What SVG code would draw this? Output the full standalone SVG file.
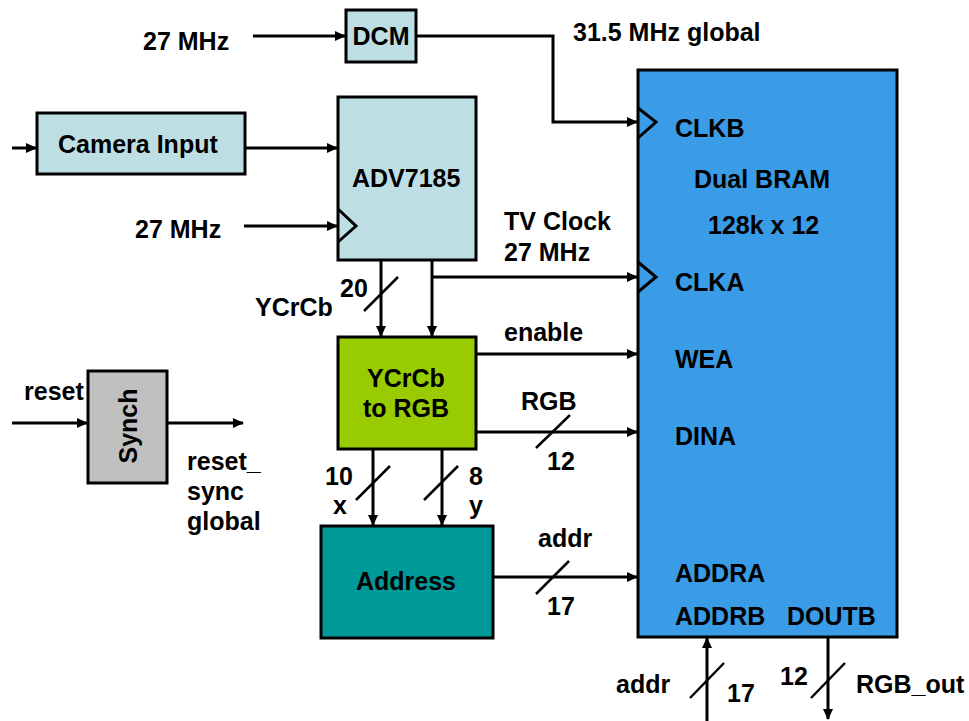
<svg xmlns="http://www.w3.org/2000/svg" width="969" height="721" viewBox="0 0 969 721">
<style>
text{font-family:"Liberation Sans",Arial,sans-serif;font-weight:bold;font-size:25px;fill:#000}
.c{text-anchor:middle}
.box{stroke:#000;stroke-width:3}
.lb{fill:#bddfe3}
.w{fill:none;stroke:#000;stroke-width:3}
.s{fill:none;stroke:#000;stroke-width:2.5}
.clk{fill:none;stroke:#000;stroke-width:3;stroke-linejoin:miter}
</style>
<defs>
<marker id="ah" markerUnits="userSpaceOnUse" markerWidth="11" markerHeight="10" refX="10" refY="5" orient="auto">
<path d="M0,0 L11,5 L0,10 z" fill="#000"/>
</marker>
</defs>
<rect width="969" height="721" fill="#fff"/>

<g id="dcm">
<rect class="box lb" x="346" y="10" width="70" height="52"/>
<text class="c" x="381" y="45">DCM</text>
</g>
<g id="camera">
<rect class="box lb" x="37" y="113" width="208" height="61"/>
<text x="58" y="153">Camera Input</text>
</g>
<g id="adv7185">
<rect class="box lb" x="338" y="97" width="138" height="163"/>
<text x="352" y="187">ADV7185</text>
<path class="clk" d="M338,209 L356,226 L338,242"/>
</g>
<g id="ycrcb2rgb">
<rect class="box" fill="#99cc00" x="338" y="337" width="138" height="112"/>
<text class="c" x="406" y="387">YCrCb</text>
<text class="c" x="406" y="417">to RGB</text>
</g>
<g id="synch">
<rect class="box" fill="#c0c0c0" x="88" y="371" width="79" height="112"/>
<text class="c" transform="translate(137,426) rotate(-90)">Synch</text>
</g>
<g id="address">
<rect class="box" fill="#009999" x="321" y="526" width="172" height="112"/>
<text class="c" x="406" y="590">Address</text>
</g>
<g id="bram">
<rect class="box" fill="#3a9be6" x="638" y="70" width="259" height="567"/>
<path class="clk" d="M638,108 L656,122 L638,138"/>
<path class="clk" d="M638,262 L656,277 L638,292"/>
<text x="675" y="137">CLKB</text>
<text x="694" y="188">Dual BRAM</text>
<text x="708" y="234">128k x 12</text>
<text x="675" y="291">CLKA</text>
<text x="675" y="368">WEA</text>
<text x="675" y="445">DINA</text>
<text x="675" y="582">ADDRA</text>
<text x="675" y="625">ADDRB</text>
<text x="787" y="625">DOUTB</text>
</g>

<g id="connectors">
<path class="w" d="M253,36 H345" marker-end="url(#ah)"/>
<path class="w" d="M416,36 H553 V122 H637" marker-end="url(#ah)"/>
<path class="w" d="M12,148 H36" marker-end="url(#ah)"/>
<path class="w" d="M245,148 H337" marker-end="url(#ah)"/>
<path class="w" d="M244,226 H337" marker-end="url(#ah)"/>
<path class="w" d="M381,260 V336" marker-end="url(#ah)"/>
<path class="w" d="M432,260 V336" marker-end="url(#ah)"/>
<path class="w" d="M432,277 H637" marker-end="url(#ah)"/>
<path class="w" d="M476,354 H637" marker-end="url(#ah)"/>
<path class="w" d="M476,432 H637" marker-end="url(#ah)"/>
<path class="w" d="M12,423 H87" marker-end="url(#ah)"/>
<path class="w" d="M167,423 H243" marker-end="url(#ah)"/>
<path class="w" d="M373,449 V525" marker-end="url(#ah)"/>
<path class="w" d="M442,449 V525" marker-end="url(#ah)"/>
<path class="w" d="M493,577 H637" marker-end="url(#ah)"/>
<path class="w" d="M707,721 V638" marker-end="url(#ah)"/>
<path class="w" d="M828,637 V719" marker-end="url(#ah)"/>
<path class="s" d="M364,311 L398,277"/>
<path class="s" d="M536,448 L570,415"/>
<path class="s" d="M356,500 L390,466"/>
<path class="s" d="M424,500 L458,466"/>
<path class="s" d="M536,594 L569,561"/>
<path class="s" d="M690,698 L724,663"/>
<path class="s" d="M811,698 L845,663"/>
</g>

<g id="labels">
<text x="143" y="50">27 MHz</text>
<text x="573" y="41">31.5 MHz global</text>
<text x="135" y="238">27 MHz</text>
<text x="504" y="230">TV Clock</text>
<text x="504" y="261">27 MHz</text>
<text x="340" y="297">20</text>
<text x="255" y="316">YCrCb</text>
<text x="504" y="341">enable</text>
<text x="521" y="410">RGB</text>
<text x="547" y="470">12</text>
<text x="24" y="400">reset</text>
<text x="187" y="470">reset_</text>
<text x="187" y="500">sync</text>
<text x="187" y="530">global</text>
<text x="325" y="485">10</text>
<text x="333" y="514">x</text>
<text x="469" y="485">8</text>
<text x="469" y="514">y</text>
<text x="538" y="547">addr</text>
<text x="547" y="615">17</text>
<text x="616" y="693">addr</text>
<text x="727" y="702">17</text>
<text x="780" y="685">12</text>
<text x="856" y="693">RGB_out</text>
</g>
</svg>
